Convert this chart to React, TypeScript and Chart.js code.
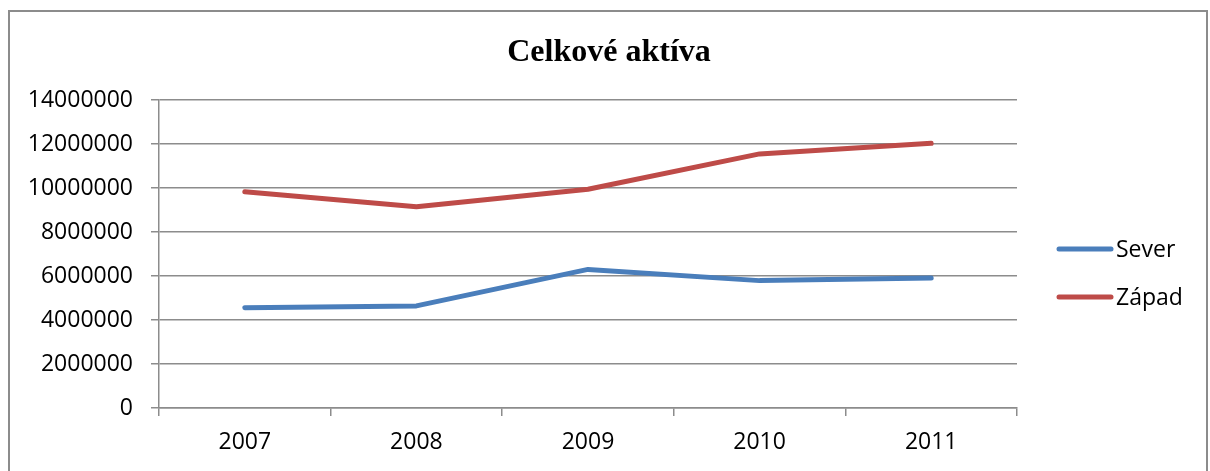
import React, { useEffect, useRef } from "react";
import { Chart, registerables } from "chart.js";

Chart.register(...registerables);

const years = ["2007", "2008", "2009", "2010", "2011"];
const severValues = [4560000, 4640000, 6300000, 5790000, 5910000];
const zapadValues = [9830000, 9150000, 9940000, 11550000, 12030000];
const seriesNames = ["Sever", "Západ"];
const titleText = "Celkové aktíva";
const yMin = 0;
const yMax = 14000000;
const yStep = 2000000;

const BLUE = "#4A7EBB";
const RED = "#BE4B48";
const GRID = "#8c8c8c";
const FONT = "'Open Sans', 'Noto Sans', sans-serif";

const decorPlugin = {
  id: "decor",
  beforeDraw(chart: any) {
    const ctx = chart.ctx;
    ctx.save();
    ctx.fillStyle = "#ffffff";
    ctx.fillRect(0, 0, chart.width, chart.height);
    ctx.strokeStyle = GRID;
    ctx.lineWidth = 2;
    ctx.strokeRect(9, 11, 1198, 600);
    ctx.restore();
  },
  afterDraw(chart: any) {
    const ctx = chart.ctx;
    ctx.save();
    // title
    ctx.fillStyle = "#000";
    ctx.font = "bold 32px 'Liberation Serif', 'Times New Roman', serif";
    ctx.textAlign = "center";
    ctx.textBaseline = "alphabetic";
    ctx.fillText(titleText, 609, 61);
    // legend
    const colors = [BLUE, RED];
    const ys = [249, 297];
    ctx.font = "23px " + FONT;
    ctx.textAlign = "left";
    ctx.textBaseline = "middle";
    seriesNames.forEach((name, i) => {
      ctx.strokeStyle = colors[i];
      ctx.lineWidth = 5;
      ctx.lineCap = "round";
      ctx.beginPath();
      ctx.moveTo(1059, ys[i]);
      ctx.lineTo(1111, ys[i]);
      ctx.stroke();
      ctx.fillStyle = "#000";
      ctx.fillText(name, 1116, ys[i] + 1);
    });
    ctx.restore();
  },
};

export default function App() {
  const ref = useRef<HTMLCanvasElement | null>(null);
  useEffect(() => {
    if (!ref.current) return;
    const chart = new Chart(ref.current, {
      type: "line",
      data: {
        labels: years,
        datasets: [
          {
            label: seriesNames[0],
            data: severValues,
            borderColor: BLUE,
            backgroundColor: BLUE,
            borderWidth: 5,
            pointRadius: 0,
            tension: 0,
            borderCapStyle: "round",
            borderJoinStyle: "round",
          },
          {
            label: seriesNames[1],
            data: zapadValues,
            borderColor: RED,
            backgroundColor: RED,
            borderWidth: 5,
            pointRadius: 0,
            tension: 0,
            borderCapStyle: "round",
            borderJoinStyle: "round",
          },
        ],
      },
      options: {
        animation: false,
        responsive: true,
        maintainAspectRatio: false,
        layout: { padding: { left: 0, top: 100, right: 193, bottom: 0 } },
        plugins: {
          legend: { display: false },
          title: { display: false },
          tooltip: { enabled: false },
        },
        scales: {
          x: {
            offset: true,
            grid: {
              offset: true,
              drawOnChartArea: false,
              drawTicks: true,
              tickLength: 8,
              color: GRID,
              lineWidth: 1.5,
            },
            border: { color: GRID, width: 1.5 },
            ticks: {
              color: "#000",
              font: { family: FONT, size: 23 },
              padding: 13,
              maxRotation: 0,
            },
            afterFit: (scale: any) => {
              scale.height = 63;
            },
          },
          y: {
            min: yMin,
            max: yMax,
            grid: {
              color: GRID,
              lineWidth: 1.5,
              tickLength: 8,
              drawTicks: true,
            },
            border: { color: GRID, width: 1.5 },
            ticks: {
              stepSize: yStep,
              color: "#000",
              font: { family: FONT, size: 23 },
              padding: 18,
              callback: (v: any) => String(v),
            },
            afterFit: (scale: any) => {
              scale.width = 159;
            },
          },
        },
      },
      plugins: [decorPlugin],
    });
    return () => chart.destroy();
  }, []);
  return (
    <div style={{ position: "fixed", left: 0, top: 0, width: 1210, height: 471 }}>
      <canvas ref={ref} />
    </div>
  );
}
